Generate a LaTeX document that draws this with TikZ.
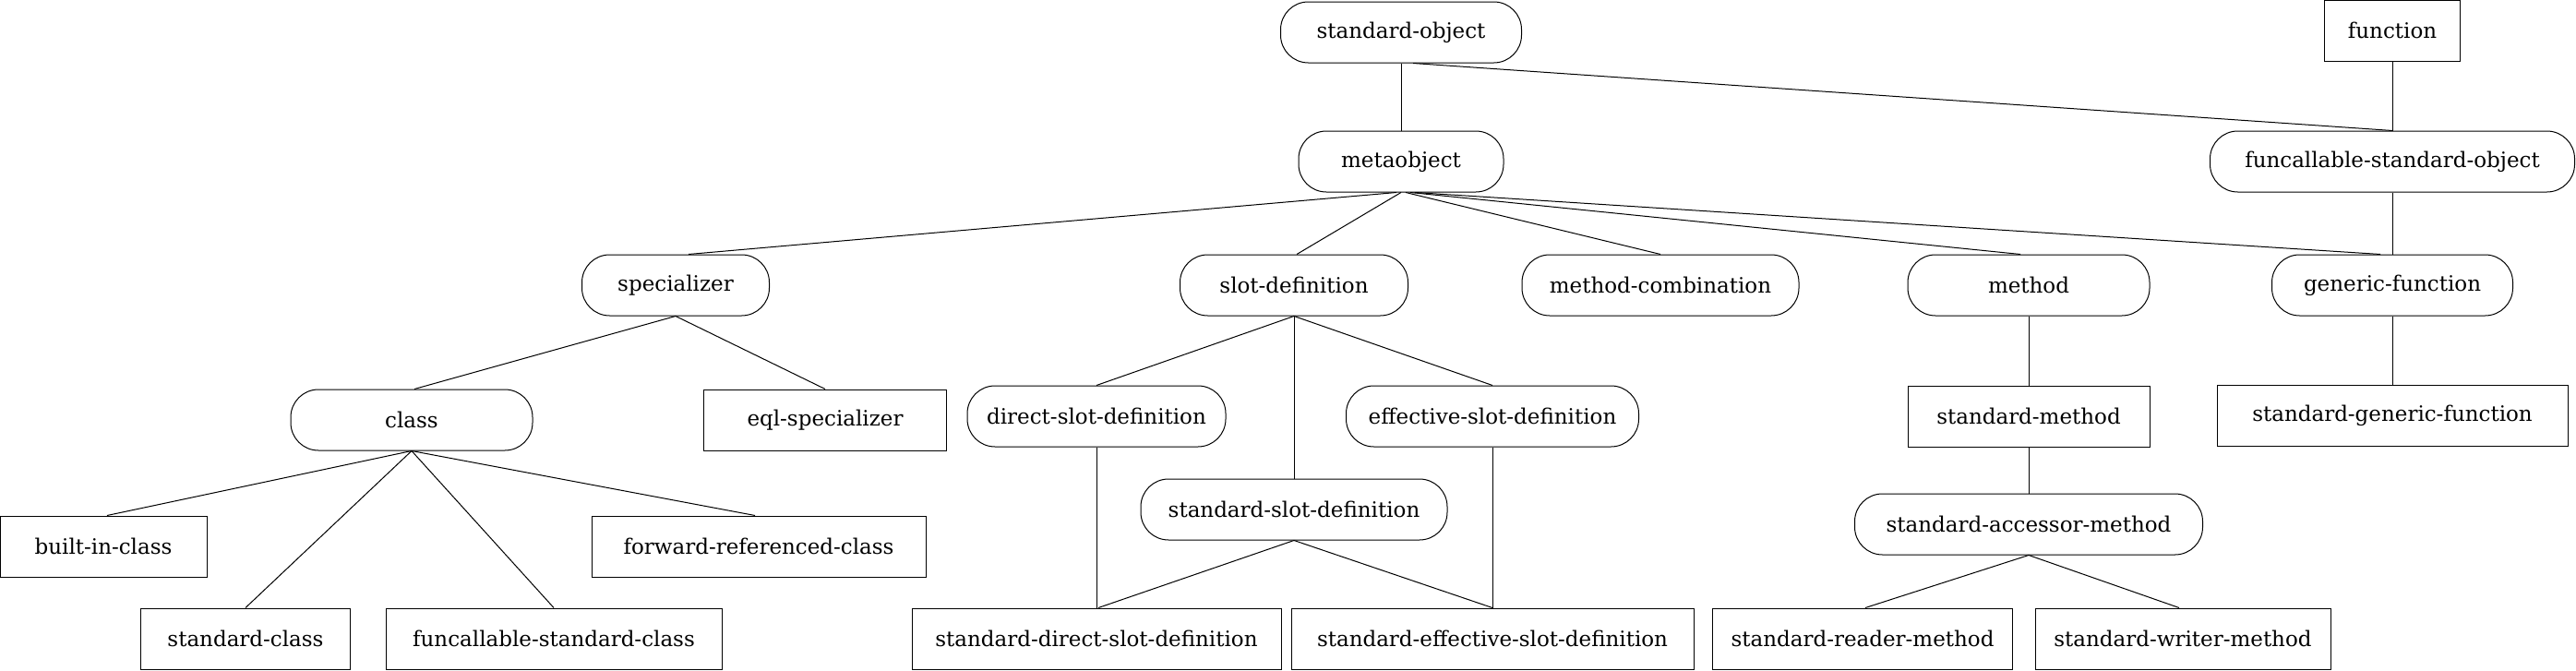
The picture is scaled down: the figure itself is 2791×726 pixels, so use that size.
\documentclass[tikz,border=0pt]{standalone}
\usepackage{fontspec}
\setmainfont{DejaVu Serif}
\begin{document}
\begin{tikzpicture}[x=1pt,y=-1pt,
  every node/.style={font=\fontsize{23}{28}\selectfont, inner sep=0pt, minimum height=66pt, line width=1pt},
  rnd/.style={draw, rounded corners=30pt},
  box/.style={draw},
  edge/.style={line width=1pt}]
\useasboundingbox (0,0) rectangle (2791,726);
% row 0
\node[rnd, minimum width=261pt] (so) at (1518,35) {standard-object};
\node[box, minimum width=147pt] (fn) at (2592,33) {function};
% row 1
\node[rnd, minimum width=222pt] (meta) at (1518,175) {metaobject};
\node[rnd, minimum width=395pt] (fso) at (2592,175) {funcallable-standard-object};
% row 2
\node[rnd, minimum width=203pt] (spec) at (732,309) {specializer};
\node[rnd, minimum width=247pt] (slot) at (1402,309) {slot-definition};
\node[rnd, minimum width=300pt] (mc) at (1799,309) {method-combination};
\node[rnd, minimum width=262pt] (meth) at (2198,309) {method};
\node[rnd, minimum width=261pt] (gf) at (2592,309) {generic-function};
% row 3
\node[rnd, minimum width=262pt] (cls) at (446,455) {class};
\node[box, minimum width=263pt] (eql) at (894,455) {eql-specializer};
\node[rnd, minimum width=280pt] (dsd) at (1188,451) {direct-slot-definition};
\node[rnd, minimum width=317pt] (esd) at (1617,451) {effective-slot-definition};
\node[box, minimum width=262pt] (sm) at (2198,451) {standard-method};
\node[box, minimum width=380pt] (sgf) at (2592,450) {standard-generic-function};
% row 4
\node[box, minimum width=224pt] (bic) at (112,592) {built-in-class};
\node[box, minimum width=362pt] (frc) at (822,592) {forward-referenced-class};
\node[rnd, minimum width=332pt] (ssd) at (1402,552) {standard-slot-definition};
\node[rnd, minimum width=377pt] (sam) at (2198,568) {standard-accessor-method};
% row 5
\node[box, minimum width=227pt] (sc) at (266,692) {standard-class};
\node[box, minimum width=364pt] (fsc) at (600,692) {funcallable-standard-class};
\node[box, minimum width=400pt] (sdsd) at (1188,692) {standard-direct-slot-definition};
\node[box, minimum width=436pt] (sesd) at (1617,692) {standard-effective-slot-definition};
\node[box, minimum width=325pt] (srm) at (2018,692) {standard-reader-method};
\node[box, minimum width=320pt] (swm) at (2365,692) {standard-writer-method};
% edges
\draw[edge] (so.south) -- (meta.north);
\draw[edge] ([xshift=13pt]so.south) -- (fso.north);
\draw[edge] (fn.south) -- (fso.north);
\draw[edge] ([xshift=-5pt]meta.south) -- ([xshift=14pt]spec.north);
\draw[edge] (meta.south) -- ([xshift=3pt]slot.north);
\draw[edge] ([xshift=5pt]meta.south) -- (mc.north);
\draw[edge] ([xshift=10pt]meta.south) -- ([xshift=-9pt]meth.north);
\draw[edge] ([xshift=15pt]meta.south) -- ([xshift=-13pt]gf.north);
\draw[edge] (fso.south) -- (gf.north);
\draw[edge] (spec.south) -- ([xshift=3pt]cls.north);
\draw[edge] (spec.south) -- (eql.north);
\draw[edge] (cls.south) -- ([xshift=4pt]bic.north);
\draw[edge] (cls.south) -- (sc.north);
\draw[edge] (cls.south) -- (fsc.north);
\draw[edge] (cls.south) -- ([xshift=-4pt]frc.north);
\draw[edge] (slot.south) -- (dsd.north);
\draw[edge] (slot.south) -- (ssd.north);
\draw[edge] (slot.south) -- (esd.north);
\draw[edge] (dsd.south) -- (sdsd.north);
\draw[edge] (ssd.south) -- ([xshift=2pt]sdsd.north);
\draw[edge] (ssd.south) -- (sesd.north);
\draw[edge] (esd.south) -- (sesd.north);
\draw[edge] (meth.south) -- (sm.north);
\draw[edge] (sm.south) -- (sam.north);
\draw[edge] (sam.south) -- ([xshift=3pt]srm.north);
\draw[edge] (sam.south) -- ([xshift=-4pt]swm.north);
\draw[edge] (gf.south) -- (sgf.north);
\end{tikzpicture}
\end{document}
